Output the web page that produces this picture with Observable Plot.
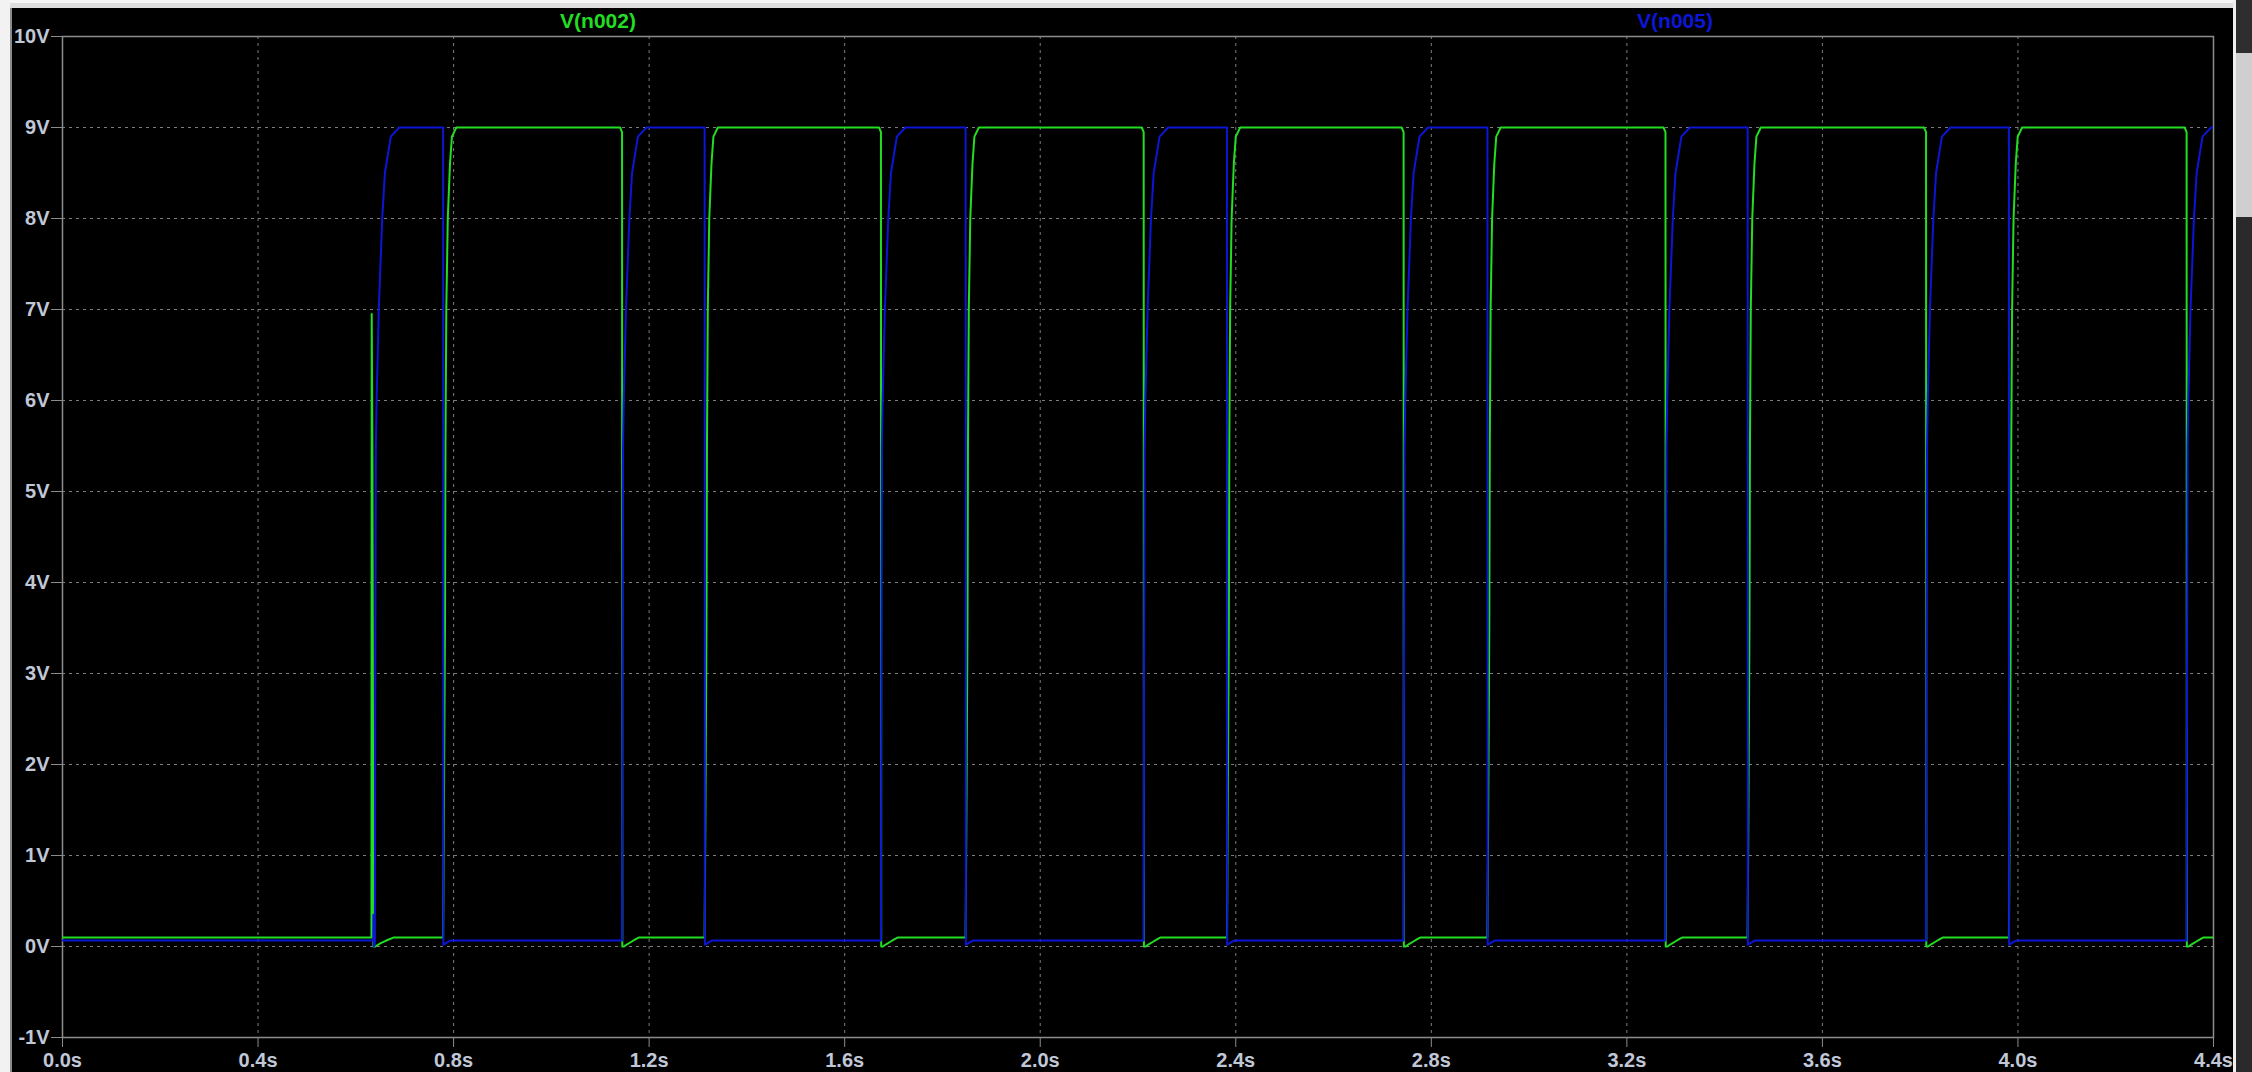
<!DOCTYPE html>
<html><head><meta charset="utf-8">
<script src="https://cdn.jsdelivr.net/npm/d3@7"></script>
<script src="https://cdn.jsdelivr.net/npm/@observablehq/plot@0.6"></script>
<style>
html,body{margin:0;padding:0;background:#000;overflow:hidden;}
#wrap{position:relative;width:2252px;height:1072px;}
#chart svg{display:block;}
.strip{position:absolute;}
.lbl{position:absolute;font:bold 21px "Liberation Sans",Arial,sans-serif;transform:translate(-50%,-50%);white-space:nowrap;}
</style></head><body>
<div id="wrap"><div id="chart"></div></div>
<script>
// ---- data ----
const xTicks = [0.0, 0.4, 0.8, 1.2, 1.6, 2.0, 2.4, 2.8, 3.2, 3.6, 4.0, 4.4];
const yTicks = [-1, 0, 1, 2, 3, 4, 5, 6, 7, 8, 9, 10];
const seriesNames = ["V(n002)", "V(n005)"];
const seriesColors = ["#22dd22", "#0c16d6"];

// times (s) where each trace falls from 9 V
const greenFallTimes = [1.1446, 1.6742, 2.2116, 2.7433, 3.2790, 3.8120, 4.3450];
const blueFallTimes  = [0.7786, 1.3135, 1.8474, 2.3820, 2.9148, 3.4470, 3.9815];
const blueFirstRise = 0.6390;

// start-up section (t, V)
const greenStartT = [0, 0.6320, 0.6325, 0.6340, 0.6360, 0.6400, 0.6500, 0.6600, 0.6780];
const greenStartV = [0.10, 0.10, 6.95, 5.40, 0.00, 0.00, 0.035, 0.06, 0.10];
const blueStartT  = [0, 0.6355, 0.6360, 0.6370, 0.6385];
const blueStartV  = [0.065, 0.065, 0.35, 0.00, 0.02];

// edge shapes (offset from edge time, V)
const greenRiseOff = [0, 0.0006, 0.0038, 0.0048, 0.0065, 0.0095, 0.014, 0.018, 0.027];
const greenRiseV   = [0.10, 0.6, 3.5, 5.5, 7.0, 8.0, 8.6, 8.9, 9.0];
const blueRiseOff  = [0, 0.0008, 0.002, 0.0035, 0.008, 0.015, 0.0205, 0.0325, 0.05];
const blueRiseV    = [0.065, 3.0, 5.5, 6.0, 7.0, 8.0, 8.5, 8.9, 9.0];
const greenFallOff = [-0.004, 0, 0.0005, 0.004, 0.012, 0.020, 0.028, 0.035];
const greenFallV   = [9.0, 8.95, 0.0, 0.0, 0.03, 0.055, 0.08, 0.10];
const blueFallOff  = [0, 0.0005, 0.005, 0.010, 0.015];
const blueFallV    = [9.0, 0.02, 0.035, 0.05, 0.065];
const tEnd = 4.4;
const greenEndV = 0.10, blueEndV = 9.0;

// ---- build point tables ----
function addEdge(arr, t0, offs, vals) { offs.forEach((o, i) => arr.push({t: t0 + o, v: vals[i]})); }
const green = greenStartT.map((t, i) => ({t, v: greenStartV[i]}));
for (let i = 0; i < greenFallTimes.length; i++) {
  addEdge(green, blueFallTimes[i], greenRiseOff, greenRiseV);
  addEdge(green, greenFallTimes[i], greenFallOff, greenFallV);
}
green.push({t: tEnd, v: greenEndV});

const blue = blueStartT.map((t, i) => ({t, v: blueStartV[i]}));
addEdge(blue, blueFirstRise, blueRiseOff, blueRiseV);
addEdge(blue, blueFallTimes[0], blueFallOff, blueFallV);
for (let i = 0; i < greenFallTimes.length; i++) {
  addEdge(blue, greenFallTimes[i], blueRiseOff, blueRiseV);
  if (i + 1 < blueFallTimes.length) addEdge(blue, blueFallTimes[i + 1], blueFallOff, blueFallV);
}
blue.push({t: tEnd, v: blueEndV});

const chart = Plot.plot({
  width: 2252, height: 1072,
  marginLeft: 62, marginRight: 39, marginTop: 36, marginBottom: 35,
  style: {background: "#000", color: "#c0c8d8", fontFamily: "Liberation Sans, Arial, sans-serif", fontSize: "20px", fontWeight: "bold", overflow: "visible"},
  x: {domain: [0, 4.4]},
  y: {domain: [-1, 10]},
  marks: [
    Plot.gridX({ticks: xTicks.slice(1, -1), stroke: "#7c7c7c", strokeOpacity: 1, strokeDasharray: "3,4"}),
    Plot.gridY({ticks: yTicks.slice(1, -1), stroke: "#7c7c7c", strokeOpacity: 1, strokeDasharray: "3,4"}),
    Plot.frame({stroke: "#8c8c8c", strokeWidth: 1.5}),
    Plot.axisY({ticks: yTicks, tickSize: 11, tickPadding: 2, tickFormat: d => `${d}V`, stroke: "#8c8c8c", fill: "#c0c8d8", label: null}),
    Plot.axisX({ticks: xTicks, tickSize: 10, tickPadding: 5, tickFormat: d => d.toFixed(1) + "s", stroke: "#8c8c8c", fill: "#c0c8d8", label: null}),
    Plot.line(green, {x: "t", y: "v", stroke: seriesColors[0], strokeWidth: 2, clip: true}),
    Plot.line(blue, {x: "t", y: "v", stroke: seriesColors[1], strokeWidth: 2, clip: true})
  ]
});
document.getElementById("chart").appendChild(chart);

// window chrome + trace names
const wrap = document.getElementById("wrap");
function strip(l, t, w, h, bg) { const d = document.createElement("div"); d.className = "strip"; Object.assign(d.style, {left: l + "px", top: t + "px", width: w + "px", height: h + "px", background: bg}); wrap.appendChild(d); }
strip(0, 0, 2236, 3, "#f6f6f6");
strip(0, 3, 2236, 5, "#dedede");
strip(0, 0, 10, 1072, "#f2f2f2");
strip(10, 8, 2, 1064, "#8a8a8a");
strip(2233, 0, 3, 1072, "#efefef");
strip(2236, 0, 16, 53, "#2e2e2e");
strip(2236, 53, 16, 164, "#cfcfcf");
strip(2236, 217, 16, 855, "#2a2a2a");
[[598, seriesNames[0], seriesColors[0]], [1675, seriesNames[1], seriesColors[1]]].forEach(([x, name, c]) => {
  const d = document.createElement("div"); d.className = "lbl"; d.textContent = name;
  d.style.left = x + "px"; d.style.top = "21px"; d.style.color = c; wrap.appendChild(d);
});
</script>
</body></html>
